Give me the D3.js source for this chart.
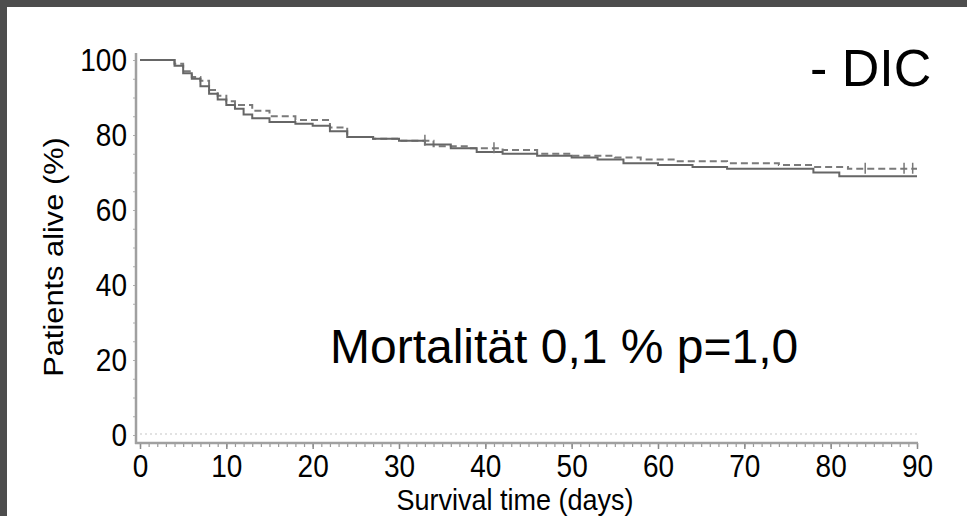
<!DOCTYPE html>
<html lang="de">
<head>
<meta charset="UTF-8">
<title>Kaplan-Meier - DIC</title>
<script src="https://d3js.org/d3.v7.min.js"></script>
<style>
  html, body { margin: 0; padding: 0; background: #4d4d4d; }
  svg { display: block; }
  svg text { font-family: "Liberation Sans", Arial, sans-serif; }
</style>
</head>
<body>
<div id="chart"></div>
<script>
// survival steps (day, % alive)
const solidDays   = [0, 4, 5, 6, 7, 8, 9, 10, 11, 12, 13, 15, 18, 20, 22, 24, 27, 30, 33, 36, 39, 42, 46, 50, 53, 56, 60, 64, 68, 74, 78, 81, 90];
const solidAlive  = [100, 98.5, 96.5, 95, 93, 91, 89.5, 88, 87, 85.5, 84.5, 83.5, 83, 82.5, 81, 79.5, 79, 78.5, 77.5, 76.5, 75.5, 75, 74.5, 74, 73.5, 72.5, 72, 71.5, 71, 71, 70, 69, 69];
const dashedDays  = [0, 4, 5, 6, 7, 8, 9, 10, 11, 13, 15, 18, 22, 24, 27, 30, 34, 38, 42, 46, 50, 55, 58, 62, 68, 74, 78, 82, 90];
const dashedAlive = [100, 99, 97, 95.5, 94.5, 92, 90.5, 89, 88, 86.5, 85, 84, 82, 79.5, 79, 78.5, 77, 76.5, 76, 75, 74.5, 74, 73.5, 73, 72.5, 72, 71.5, 71, 71];
const censorDays  = [33, 41, 84, 88.5, 89.5];
const xTicks = [0, 10, 20, 30, 40, 50, 60, 70, 80, 90];
const yTicks = [0, 20, 40, 60, 80, 100];

const W = 967, H = 516;
const stretch = 1.1; // the source image is a bit taller than it is wide
const font = "'Liberation Sans', Arial, sans-serif";

const svg = d3.select("#chart").append("svg")
  .attr("width", W)
  .attr("height", H);

svg.append("rect")
  .attr("x", 7).attr("y", 7)
  .attr("width", W - 7).attr("height", H - 7)
  .attr("fill", "#fff");

const x = d3.scaleLinear().domain([0, 90]).range([140, 917]);
const y = d3.scaleLinear().domain([0, 100]).range([435, 60]);
const axisY = 443, axisX = 136;

// x axis
const gx = svg.append("g").attr("transform", `translate(0,${axisY})`);
gx.call(d3.axisBottom(x).tickValues(d3.range(0, 91, 1)).tickSize(4).tickFormat(""))
gx.select(".domain").remove();
gx.selectAll(".tick line").attr("stroke", "#9a9a9a").attr("stroke-width", 1.2);
const gxMaj = svg.append("g").attr("transform", `translate(0,${axisY})`);
gxMaj.call(d3.axisBottom(x).tickValues(xTicks).tickSize(6));
gxMaj.attr("font-family", font).attr("font-size", 28);
gxMaj.select(".domain").remove();
gxMaj.selectAll(".tick line").attr("stroke", "#8a8a8a").attr("stroke-width", 1.5);
gxMaj.selectAll(".tick text")
  .attr("fill", "#000")
  .attr("y", 34 / stretch)
  .attr("dy", 0)
  .attr("transform", `scale(1,${stretch})`);
svg.append("line")
  .attr("x1", axisX - 1).attr("x2", x(90) + 1)
  .attr("y1", axisY).attr("y2", axisY)
  .attr("stroke", "#a0a0a0").attr("stroke-width", 2.5);

// y axis
const gy = svg.append("g").attr("transform", `translate(${axisX},0)`);
gy.call(d3.axisLeft(y).tickValues(d3.range(0, 101, 5)).tickSize(3).tickFormat(""));
gy.select(".domain").remove();
gy.selectAll(".tick line").attr("stroke", "#b0b0b0");
const gyMaj = svg.append("g").attr("transform", `translate(${axisX},0)`);
gyMaj.call(d3.axisLeft(y).tickValues(yTicks).tickSize(0));
gyMaj.attr("font-family", font).attr("font-size", 28);
gyMaj.select(".domain").remove();
gyMaj.selectAll(".tick text")
  .attr("fill", "#000")
  .attr("x", -9)
  .attr("dy", "0.35em")
  .attr("transform", `scale(1,${stretch})`);
svg.append("line")
  .attr("x1", axisX).attr("x2", axisX)
  .attr("y1", 53).attr("y2", axisY + 1)
  .attr("stroke", "#a0a0a0").attr("stroke-width", 2.5);

// faint dotted row just above the x axis
svg.append("line")
  .attr("x1", x(0)).attr("x2", x(90))
  .attr("y1", 434).attr("y2", 434)
  .attr("stroke", "#e2e2e2").attr("stroke-width", 2)
  .attr("stroke-dasharray", "2,3");

// curves
const line = d3.line().curve(d3.curveStepAfter).x(d => x(d[0])).y(d => y(d[1]));
const solid = solidDays.map((d, i) => [d, solidAlive[i]]);
const dashed = dashedDays.map((d, i) => [d, dashedAlive[i]]);

svg.append("path")
  .datum(dashed)
  .attr("d", line)
  .attr("fill", "none")
  .attr("stroke", "#7a7a7a")
  .attr("stroke-width", 2)
  .attr("stroke-dasharray", "7,4");

svg.append("path")
  .datum(solid)
  .attr("d", line)
  .attr("fill", "none")
  .attr("stroke", "#666")
  .attr("stroke-width", 2);

const stepAt = (days, alive, t) => alive[d3.bisectRight(days, t) - 1];
svg.append("g")
  .selectAll("line")
  .data(censorDays)
  .join("line")
  .attr("x1", d => x(d)).attr("x2", d => x(d))
  .attr("y1", d => y(stepAt(dashedDays, dashedAlive, d)) - 6)
  .attr("y2", d => y(stepAt(dashedDays, dashedAlive, d)) + 5)
  .attr("stroke", "#777")
  .attr("stroke-width", 1.5);

// axis titles
svg.append("text")
  .attr("transform", `translate(515,${510}) scale(1,${stretch})`)
  .attr("text-anchor", "middle")
  .attr("font-size", 27)
  .text("Survival time (days)");

svg.append("text")
  .attr("transform", `translate(63,257) rotate(-90) scale(${stretch},1)`)
  .attr("text-anchor", "middle")
  .attr("font-size", 28)
  .text("Patients alive (%)");

// overlay notes
svg.append("text")
  .attr("x", 810).attr("y", 86)
  .attr("font-size", 52)
  .text("- DIC");

svg.append("text")
  .attr("x", 330).attr("y", 363)
  .attr("font-size", 48)
  .text("Mortalität 0,1 % p=1,0");
</script>
</body>
</html>
